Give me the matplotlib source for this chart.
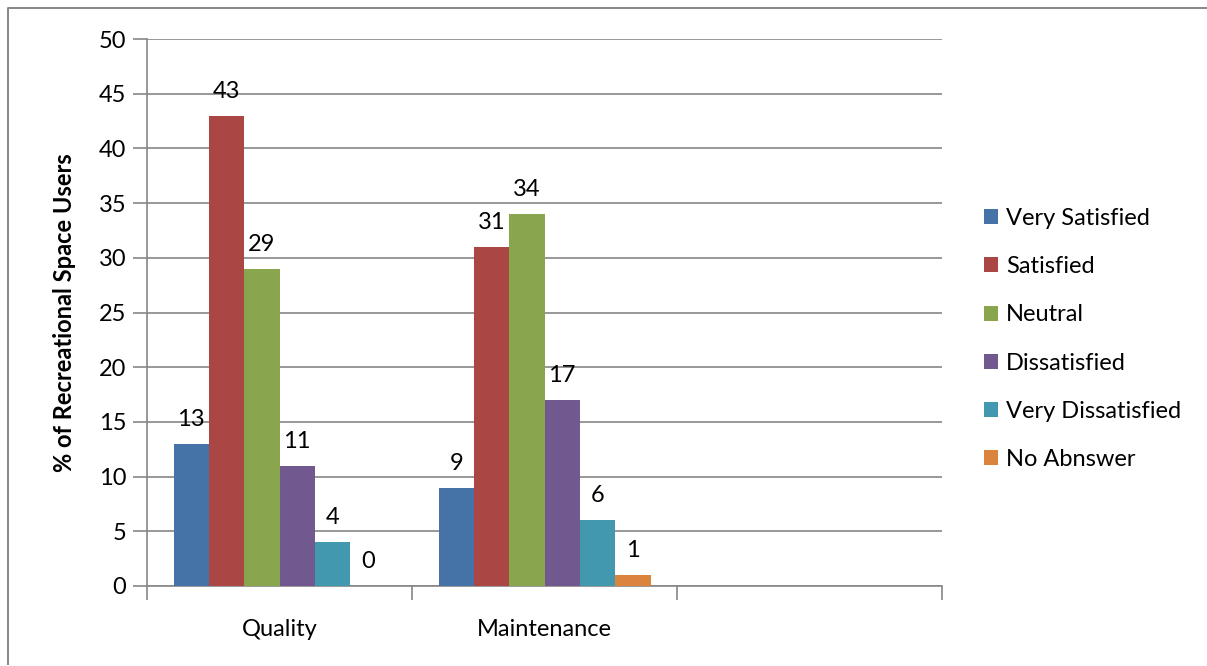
import matplotlib
matplotlib.use('Agg')
from matplotlib import pyplot as plt
from matplotlib.lines import Line2D
import numpy as np

plt.rcParams['font.family'] = ['Lato', 'DejaVu Sans']

categories = ['Quality', 'Maintenance', '']
series = ['Very Satisfied', 'Satisfied', 'Neutral', 'Dissatisfied',
          'Very Dissatisfied', 'No Abnswer']
very_satisfied = [13, 9]
satisfied = [43, 31]
neutral = [29, 34]
dissatisfied = [11, 17]
very_dissatisfied = [4, 6]
no_answer = [0, 1]
values = [very_satisfied, satisfied, neutral, dissatisfied, very_dissatisfied, no_answer]
colors = ['#4572A7', '#AA4643', '#89A54E', '#71588F', '#4198AF', '#DB843D']

grid_col = '#868686'
fs = 17

fig = plt.figure(figsize=(12.07, 6.66), dpi=100)
# chart frame (only left and top edges are visible in the crop)
fig.lines.append(Line2D([8/1207, 8/1207, 1.0], [2/666, 1 - 8/666, 1 - 8/666],
                        transform=fig.transFigure, color=grid_col, lw=1.4))
ax = fig.add_axes([147/1207, 1 - 586/666, (942-147)/1207, (586-39)/666])

w = 0.8 / len(series)
for i, (name, vals, c) in enumerate(zip(series, values, colors)):
    x = np.arange(len(vals)) + 0.1 + w * i + w / 2
    bars = ax.bar(x, vals, width=w, color=c, label=name, zorder=3)
    ax.bar_label(bars, labels=[str(v) for v in vals], padding=10, fontsize=fs)

ax.set_xlim(0, 3)
ax.set_ylim(0, 50)
ax.set_yticks(np.arange(0, 51, 5))
ax.yaxis.grid(True, color=grid_col, lw=1.2, zorder=0)
ax.set_xticks([0, 1, 2, 3])
ax.set_xticklabels([])
ax.set_xticks([0.5, 1.5, 2.5], minor=True)
ax.set_xticklabels(categories, minor=True, fontsize=fs)
ax.tick_params(axis='x', which='minor', length=0, pad=24)
ax.tick_params(axis='x', which='major', length=10, color=grid_col, width=1.2)
ax.tick_params(axis='y', length=10, color=grid_col, width=1.2, labelsize=fs, pad=5)
for s in ['top', 'right']:
    ax.spines[s].set_visible(False)
for s in ['left', 'bottom']:
    ax.spines[s].set_color(grid_col)
    ax.spines[s].set_linewidth(1.2)
ax.set_ylabel('% of Recreational Space Users', fontsize=fs, fontweight='bold', labelpad=16)

ax.legend(loc='center left', bbox_to_anchor=(1.026, 0.4516), frameon=False, fontsize=fs,
          handlelength=0.6, handleheight=0.6, handletextpad=0.35, labelspacing=1.15)

fig.savefig('out.png', dpi=100)
